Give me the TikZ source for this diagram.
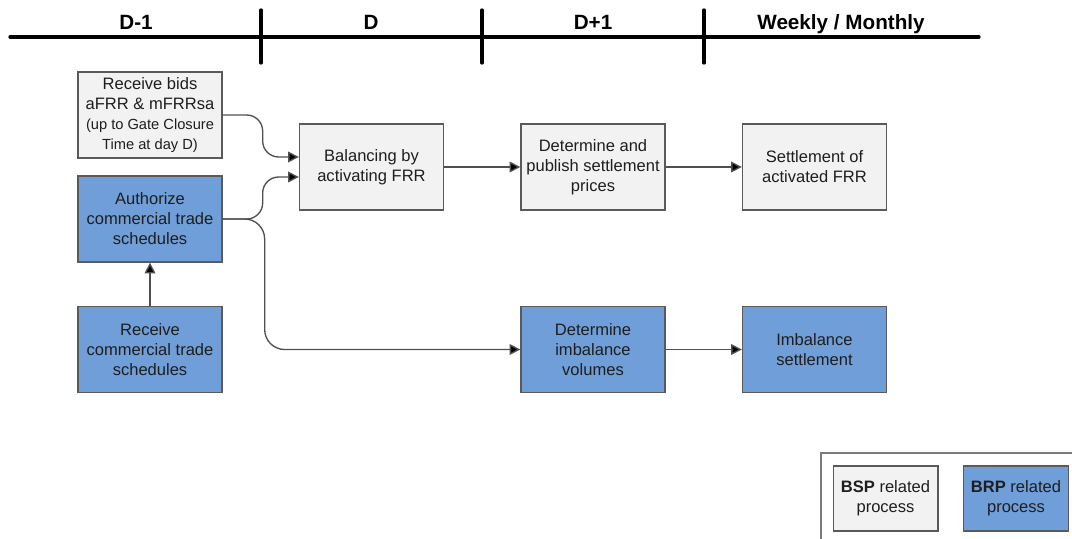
\documentclass[tikz,border=0pt]{standalone}
\usepackage{fontspec}
\setmainfont{Liberation Sans}
\usetikzlibrary{arrows.meta}
\definecolor{bspfill}{RGB}{242,242,242}
\definecolor{brpfill}{RGB}{111,158,216}
\definecolor{boxline}{RGB}{90,90,90}
\definecolor{connline}{RGB}{80,80,80}
\definecolor{txt}{RGB}{30,30,30}
\newcommand{\smallln}{\fontsize{11}{14}\selectfont}
\tikzset{
  procbox/.style={draw=boxline, line width=1pt, minimum width=108pt, minimum height=64.5pt,
    inner sep=0pt, align=center, text=txt, font=\fontsize{12.4}{15}\selectfont},
  bspbox/.style={procbox, fill=bspfill},
  brpbox/.style={procbox, fill=brpfill},
  legbox/.style={procbox, minimum width=78.5pt, minimum height=48.75pt},
  conn/.style={draw=connline, line width=1pt, -{Triangle[length=8pt,width=8pt,fill=black]}},
  hdr/.style={font=\fontsize{15.5}{18}\selectfont\bfseries, text=black, inner sep=0pt, anchor=base},
  tline/.style={line width=2.5pt, black, line cap=round}
}
\begin{document}
\begin{tikzpicture}[x=0.75pt,y=-0.75pt]
\useasboundingbox (0,0) rectangle (1072,539);
% timeline
\coordinate (tl0) at (10,37);
\coordinate (tl1) at (979,37);
\draw[tline] (tl0) -- (tl1);
\coordinate (t1a) at (261,10); \coordinate (t1b) at (261,63);
\coordinate (t2a) at (482,10); \coordinate (t2b) at (482,63);
\coordinate (t3a) at (704,10); \coordinate (t3b) at (704,63);
\draw[tline] (t1a) -- (t1b);
\draw[tline] (t2a) -- (t2b);
\draw[tline] (t3a) -- (t3b);
\node[hdr] (h1) at (136,30) {D-1};
\node[hdr] (h2) at (371,30) {D};
\node[hdr] (h3) at (593,30) {D+1};
\node[hdr] (h4) at (841,30) {Weekly / Monthly};
% boxes
\node[bspbox] (rb) at (150,115) {Receive bids\\aFRR \& mFRRsa\\\smallln(up to Gate Closure\\\smallln Time at day D)};
\node[brpbox] (auth) at (150,219) {Authorize\\commercial trade\\schedules};
\node[brpbox] (rct) at (150,349.5) {Receive\\commercial trade\\schedules};
\node[bspbox] (bal) at (371.5,167) {Balancing by\\activating FRR};
\node[bspbox] (pub) at (593,167) {Determine and\\publish settlement\\prices};
\node[bspbox] (setl) at (814.5,167) {Settlement of\\activated FRR};
\node[brpbox] (imb) at (593,349.5) {Determine\\imbalance\\volumes};
\node[brpbox] (imbs) at (814.5,349.5) {Imbalance\\settlement};
% connectors
\draw[conn, rounded corners=12pt] (rb.east) -- ++(40,0) |- ([yshift=7.5pt]bal.west);
\draw[conn, rounded corners=12pt] (auth.east) -- ++(40,0) |- ([yshift=-7.5pt]bal.west);
\draw[conn, rounded corners=15pt] (auth.east) -- ++(42,0) |- (imb.west);
\draw[conn] (rct.north) -- (auth.south);
\draw[conn] (bal) -- (pub);
\draw[conn] (pub) -- (setl);
\draw[conn] (imb) -- (imbs);
% legend
\coordinate (lg1) at (1073,453);
\coordinate (lg2) at (821,453);
\coordinate (lg3) at (821,540);
\draw[draw=boxline!80, line width=1pt] (lg1) -- (lg2) -- (lg3);
\node[bspbox, legbox] (lbsp) at (885.5,498.5) {\textbf{BSP} related\\process};
\node[brpbox, legbox] (lbrp) at (1016,498.5) {\textbf{BRP} related\\process};
\end{tikzpicture}
\end{document}
